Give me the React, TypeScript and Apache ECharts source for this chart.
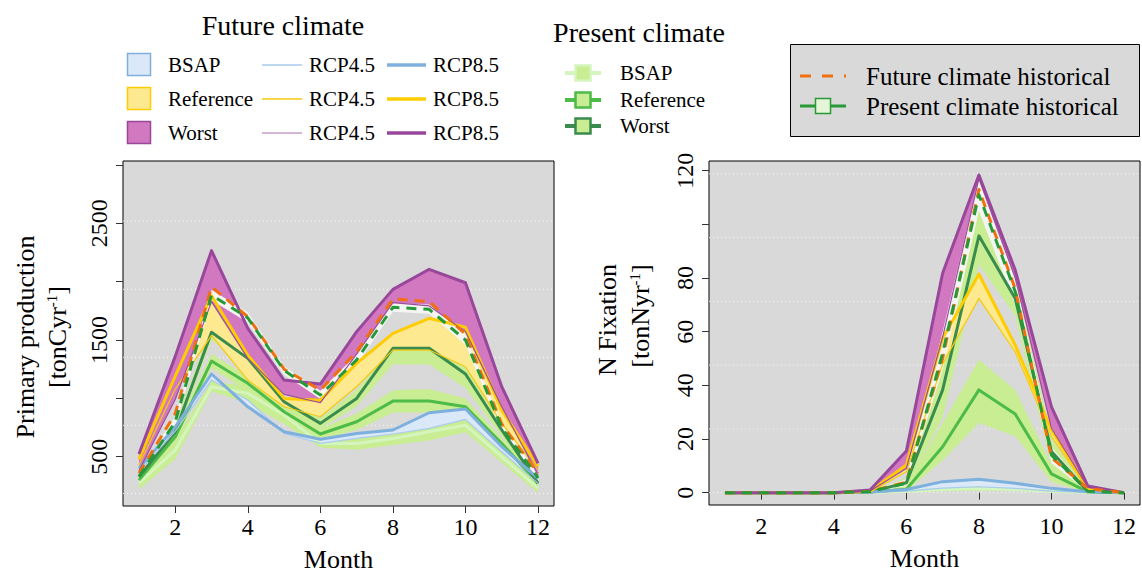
import React, { useEffect, useRef } from 'react';
import * as echarts from 'echarts';

const FONT = '"Liberation Serif", "DejaVu Serif", serif';

const months = [1, 2, 3, 4, 5, 6, 7, 8, 9, 10, 11, 12];
const xTicks = [2, 4, 6, 8, 10, 12];

// ---------- Primary production (left) ----------
const ppYTicks = [500, 1000, 1500, 2000, 2500, 3000];
const ppYLabels = [500, 1500, 2500];
const ppGrid = [186, 769, 1352, 1935, 2520];

const ppFutBsap45 = [370, 720, 1157, 986, 700, 614, 657, 695, 743, 820, 543, 272];
const ppFutBsap85 = [400, 757, 1209, 928, 714, 650, 700, 729, 877, 909, 586, 315];
const ppFutRef45 = [430, 1080, 1540, 1157, 928, 843, 1100, 1414, 1414, 1271, 786, 386];
const ppFutRef85 = [480, 1190, 1880, 1370, 1000, 985, 1300, 1557, 1686, 1609, 900, 420];
const ppFutWorst45 = [380, 990, 1829, 1343, 1035, 963, 1380, 1820, 1792, 1572, 928, 343];
const ppFutWorst85 = [523, 1360, 2266, 1600, 1157, 1123, 1572, 1934, 2106, 1991, 1100, 444];

const ppPresBsap = [275, 557, 1100, 1043, 857, 614, 614, 657, 714, 771, 500, 229];
const ppPresBsapLow = [220, 480, 1060, 960, 780, 580, 560, 600, 640, 710, 450, 190];
const ppPresBsapHigh = [330, 640, 1150, 1100, 920, 660, 680, 720, 790, 830, 560, 270];
const ppPresRef = [300, 671, 1320, 1129, 886, 695, 800, 977, 977, 928, 614, 272];
const ppPresRefLow = [260, 610, 1260, 1060, 830, 650, 730, 880, 880, 860, 570, 240];
const ppPresRefHigh = [340, 730, 1380, 1190, 940, 740, 870, 1070, 1080, 1000, 660, 310];
const ppPresWorst = [329, 714, 1566, 1343, 971, 786, 1000, 1429, 1429, 1209, 729, 272];
const ppPresWorstLow = [290, 650, 1500, 1270, 920, 740, 930, 1290, 1290, 1090, 680, 240];
const ppPresWorstHigh = [360, 780, 1620, 1400, 1020, 830, 1070, 1440, 1440, 1280, 780, 310];

const ppFutHist = [358, 870, 1955, 1700, 1250, 1070, 1400, 1852, 1829, 1550, 780, 358];
const ppPresHist = [330, 800, 1886, 1690, 1240, 1029, 1330, 1780, 1763, 1500, 750, 320];
const ppPresHistLow = [300, 760, 1840, 1650, 1205, 995, 1290, 1743, 1725, 1460, 715, 290];
const ppPresHistHigh = [365, 845, 1930, 1735, 1275, 1065, 1375, 1815, 1805, 1545, 790, 355];

// ---------- N fixation (right) ----------
const nfYTicks = [0, 20, 40, 60, 80, 100, 120];
const nfYLabels = [0, 20, 40, 60, 80, 120];
const nfGrid = [0, 23.76, 47.52, 71.28, 95.04, 118.8];

const nfFutBsap45 = [0, 0, 0, 0, 0.1, 0.6, 1.7, 2.2, 1.6, 0.6, 0.1, 0];
const nfFutBsap85 = [0, 0, 0, 0, 0.2, 1.2, 4.1, 5.0, 3.5, 1.6, 0.3, 0];
const nfFutRef45 = [0, 0, 0, 0, 0.3, 7.8, 48, 72.4, 52.5, 20.9, 1.2, 0];
const nfFutRef85 = [0, 0, 0, 0, 0.5, 10.3, 57.5, 81.5, 55, 23.4, 1.6, 0];
const nfFutWorst45 = [0, 0, 0, 0, 0.6, 9.0, 58, 117, 80, 24, 2.0, 0];
const nfFutWorst85 = [0, 0, 0, 0, 1.0, 15.5, 81.8, 118.4, 83, 32, 2.5, 0];

const nfPresBsap = [0, 0, 0, 0, 0.1, 0.5, 1.2, 1.5, 1.2, 0.5, 0.1, 0];
const nfPresBsapLow = [0, 0, 0, 0, 0, 0.2, 0.5, 0.8, 0.6, 0.2, 0, 0];
const nfPresBsapHigh = [0, 0, 0, 0, 0.2, 1.0, 2.2, 2.6, 2.2, 1.0, 0.2, 0];
const nfPresRef = [0, 0, 0, 0, 0.2, 1.3, 17.1, 38.3, 29.3, 7, 0.3, 0];
const nfPresRefLow = [0, 0, 0, 0, 0.1, 0.5, 12, 26, 21, 4, 0.1, 0];
const nfPresRefHigh = [0, 0, 0, 0, 0.3, 3, 26, 49.5, 38.3, 10.3, 0.6, 0];
const nfPresWorst = [0, 0, 0, 0, 0.3, 3.7, 38.3, 95.7, 72.4, 15.3, 0.4, 0];
const nfPresWorstLow = [0, 0, 0, 0, 0.1, 2, 28, 85, 66, 10, 0.2, 0];
const nfPresWorstHigh = [0, 0, 0, 0, 0.5, 5.5, 48, 108, 80.5, 20, 0.8, 0];

const nfFutHist = [0, 0, 0, 0, 0.5, 4, 50, 113, 76, 13, 1.5, 0];
const nfPresHist = [0, 0, 0, 0, 0.4, 3.5, 52, 111, 75, 14, 0.5, 0];
const nfPresHistLow = [0, 0, 0, 0, 0.2, 2.5, 46, 105, 70, 11, 0.3, 0];
const nfPresHistHigh = [0, 0, 0, 0, 0.6, 5, 60, 117, 80, 17, 0.8, 0];

// ---------- colours ----------
const C = {
  bg: '#d9d9d9',
  presBand: '#c9ed92',
  presBsapLine: '#d4f5bd',
  presRefLine: '#4cbb47',
  presWorstLine: '#3a8b4e',
  bsapFill: '#dbe8f7',
  bsapThin: '#a9cbee',
  bsapThick: '#7eb0de',
  refFill: '#fde98f',
  refThin: '#f6c90e',
  refThick: '#ffcc00',
  worstFill: '#d178c0',
  worstThin: '#9b4f9b',
  worstThick: '#98479a',
  histOrange: '#f07010',
  histGreen: '#259a36',
  histBand: '#f4f5f3',
};

const X_MIN = 0.56;
const X_MAX = 12.44;

function bandSeries(axis: number, lo: number[], hi: number[], color: string) {
  return {
    type: 'custom',
    xAxisIndex: axis,
    yAxisIndex: axis,
    silent: true,
    z: 2,
    data: months.map((m, i) => [m, lo[i], hi[i]]),
    encode: { x: 0, y: [1, 2] },
    renderItem: (params: any, api: any) => {
      if (params.dataIndex !== 0) return null;
      const pts: number[][] = [];
      for (let i = 0; i < months.length; i++) pts.push(api.coord([months[i], hi[i]]));
      for (let i = months.length - 1; i >= 0; i--) pts.push(api.coord([months[i], lo[i]]));
      return { type: 'polygon', shape: { points: pts }, style: { fill: color, stroke: null } };
    },
  };
}

function lineSeries(axis: number, vals: number[], color: string, width: number, dashed = false) {
  return {
    type: 'line',
    xAxisIndex: axis,
    yAxisIndex: axis,
    silent: true,
    z: 3,
    showSymbol: false,
    symbol: 'none',
    data: months.map((m, i) => [m, vals[i]]),
    lineStyle: { color, width, type: dashed ? [10, 7] : 'solid', cap: 'butt', join: 'round' },
  };
}

function gridLine(axis: number, v: number) {
  return {
    type: 'line',
    xAxisIndex: axis,
    yAxisIndex: axis,
    silent: true,
    z: 1,
    showSymbol: false,
    symbol: 'none',
    data: [[X_MIN, v], [X_MAX, v]],
    lineStyle: { color: 'rgba(255,255,255,0.85)', width: 1, type: [1, 3] },
  };
}

function panelSeries(axis: number, d: any) {
  return [
    ...d.grid.map((v: number) => gridLine(axis, v)),
    bandSeries(axis, d.presBsapLow, d.presBsapHigh, C.presBand),
    bandSeries(axis, d.presRefLow, d.presRefHigh, C.presBand),
    bandSeries(axis, d.presWorstLow, d.presWorstHigh, C.presBand),
    bandSeries(axis, d.futBsap45, d.futBsap85, C.bsapFill),
    bandSeries(axis, d.futRef45, d.futRef85, C.refFill),
    bandSeries(axis, d.futWorst45, d.futWorst85, C.worstFill),
    bandSeries(axis, d.presHistLow, d.presHistHigh, C.histBand),
    lineSeries(axis, d.presBsap, C.presBsapLine, 3),
    lineSeries(axis, d.presRef, C.presRefLine, 3),
    lineSeries(axis, d.presWorst, C.presWorstLine, 3),
    lineSeries(axis, d.futBsap45, C.bsapThin, 1.2),
    lineSeries(axis, d.futBsap85, C.bsapThick, 3),
    lineSeries(axis, d.futRef45, C.refThin, 1.2),
    lineSeries(axis, d.futRef85, C.refThick, 3),
    lineSeries(axis, d.futWorst45, C.worstThin, 1.2),
    lineSeries(axis, d.futWorst85, C.worstThick, 3),
    lineSeries(axis, d.futHist, C.histOrange, 3, true),
    lineSeries(axis, d.presHist, C.histGreen, 3, true),
  ];
}

const txt = (text: string, x: number, y: number, size: number, align = 'left') => ({
  type: 'text',
  x,
  y,
  silent: true,
  style: {
    text,
    fill: '#000',
    fontFamily: 'Liberation Serif',
    fontSize: size,
    fontWeight: 'normal',
    align,
    verticalAlign: 'middle',
  },
});

const hline = (x1: number, x2: number, y: number, color: string, width: number, dash: any = null) => ({
  type: 'line',
  silent: true,
  shape: { x1, y1: y, x2, y2: y },
  style: { stroke: color, lineWidth: width, lineDash: dash },
});

const rotTitle = (text: string, x: number, y: number, size: number) => ({
  type: 'text',
  x,
  y,
  rotation: Math.PI / 2,
  silent: true,
  style: {
    text,
    fill: '#000',
    fontFamily: 'Liberation Serif',
    fontSize: size,
    align: 'center',
    verticalAlign: 'middle',
    rich: {
      a: { fontSize: size, fontFamily: 'Liberation Serif', fill: '#000' },
      s: { fontSize: 15, fontFamily: 'Liberation Serif', fill: '#000', verticalAlign: 'top', padding: [0, 0, 8, 0] },
    },
  },
});

function legendGraphics() {
  const g: any[] = [];
  g.push(txt('Future climate', 283, 25, 28, 'center'));
  const rows = [
    { y: 65, label: 'BSAP', fill: C.bsapFill, stroke: C.bsapThick, thin: C.bsapThin, thick: C.bsapThick },
    { y: 99, label: 'Reference', fill: C.refFill, stroke: C.refThick, thin: C.refThin, thick: C.refThick },
    { y: 133, label: 'Worst', fill: C.worstFill, stroke: C.worstThick, thin: '#c79ccb', thick: C.worstThick },
  ];
  rows.forEach((r) => {
    g.push({ type: 'rect', silent: true, shape: { x: 127.5, y: r.y - 11.5, width: 23, height: 22 }, style: { fill: r.fill, stroke: r.stroke, lineWidth: 1.5 } });
    g.push(txt(r.label, 168, r.y, 21));
    g.push(hline(262, 302, r.y, r.thin, 1.5));
    g.push(txt('RCP4.5', 309, r.y, 21));
    g.push(hline(387, 426, r.y, r.thick, 3.5));
    g.push(txt('RCP8.5', 433, r.y, 21));
  });

  g.push(txt('Present climate', 639, 32, 28, 'center'));
  const prow = [
    { y: 73, label: 'BSAP', line: C.presBsapLine },
    { y: 100, label: 'Reference', line: C.presRefLine },
    { y: 126, label: 'Worst', line: C.presWorstLine },
  ];
  prow.forEach((r) => {
    g.push(hline(565, 601, r.y, r.line, 4));
    g.push({ type: 'rect', silent: true, shape: { x: 575.5, y: r.y - 7.5, width: 15, height: 15 }, style: { fill: C.presBand, stroke: r.line, lineWidth: 2.5 } });
    g.push(txt(r.label, 620, r.y, 21));
  });

  g.push({ type: 'rect', silent: true, shape: { x: 790.5, y: 44.5, width: 349, height: 92 }, style: { fill: C.bg, stroke: '#000', lineWidth: 1 } });
  g.push(hline(800, 846, 76, C.histOrange, 3, [11, 11]));
  g.push(txt('Future climate historical', 866, 76, 25));
  g.push(hline(800, 846, 106, C.histGreen, 3));
  g.push({ type: 'rect', silent: true, shape: { x: 815.5, y: 98.5, width: 15, height: 15 }, style: { fill: '#e4f5d8', stroke: C.histGreen, lineWidth: 1.5 } });
  g.push(txt('Present climate historical', 866, 106, 25));

  g.push(rotTitle('{a|Primary production}', 25, 337, 26));
  g.push(rotTitle('{a|[tonCyr}{s|-1}{a|]}', 57, 337, 26));
  g.push(rotTitle('{a|N Fixation}', 607, 320, 26));
  g.push(rotTitle('{a|[tonNyr}{s|-1}{a|]}', 640, 316, 26));
  return g;
}

function xAxisCfg(gridIndex: number) {
  return {
    gridIndex,
    type: 'value',
    min: X_MIN,
    max: X_MAX,
    axisLine: { show: false },
    splitLine: { show: false },
    axisTick: { show: true, length: 7, customValues: xTicks, lineStyle: { color: '#333', width: 1 } },
    axisLabel: { customValues: xTicks, fontSize: 24, fontFamily: FONT, color: '#000', margin: 9, formatter: (v: number) => String(v) },
    name: 'Month',
    nameLocation: 'middle',
    nameGap: 40,
    nameTextStyle: { fontSize: 26, lineHeight: 26, fontFamily: FONT, color: '#000' },
  };
}

function yAxisCfg(gridIndex: number, min: number, max: number, ticks: number[], labels: number[], margin: number) {
  return {
    gridIndex,
    type: 'value',
    min,
    max,
    axisLine: { show: false },
    splitLine: { show: false },
    axisTick: { show: true, length: 7, customValues: ticks, lineStyle: { color: '#333', width: 1 } },
    axisLabel: {
      customValues: labels,
      rotate: 90,
      fontSize: 24,
      fontFamily: FONT,
      color: '#000',
      margin,
      formatter: (v: number) => String(v),
    },
  };
}

export default function App() {
  const ref = useRef<HTMLDivElement>(null);
  useEffect(() => {
    document.body.style.margin = '0';
    if (!ref.current) return;
    const chart = echarts.init(ref.current, undefined, { renderer: 'svg' });
    const pp = {
      grid: ppGrid,
      futBsap45: ppFutBsap45, futBsap85: ppFutBsap85,
      futRef45: ppFutRef45, futRef85: ppFutRef85,
      futWorst45: ppFutWorst45, futWorst85: ppFutWorst85,
      presBsap: ppPresBsap, presBsapLow: ppPresBsapLow, presBsapHigh: ppPresBsapHigh,
      presRef: ppPresRef, presRefLow: ppPresRefLow, presRefHigh: ppPresRefHigh,
      presWorst: ppPresWorst, presWorstLow: ppPresWorstLow, presWorstHigh: ppPresWorstHigh,
      futHist: ppFutHist, presHist: ppPresHist, presHistLow: ppPresHistLow, presHistHigh: ppPresHistHigh,
    };
    const nf = {
      grid: nfGrid,
      futBsap45: nfFutBsap45, futBsap85: nfFutBsap85,
      futRef45: nfFutRef45, futRef85: nfFutRef85,
      futWorst45: nfFutWorst45, futWorst85: nfFutWorst85,
      presBsap: nfPresBsap, presBsapLow: nfPresBsapLow, presBsapHigh: nfPresBsapHigh,
      presRef: nfPresRef, presRefLow: nfPresRefLow, presRefHigh: nfPresRefHigh,
      presWorst: nfPresWorst, presWorstLow: nfPresWorstLow, presWorstHigh: nfPresWorstHigh,
      futHist: nfFutHist, presHist: nfPresHist, presHistLow: nfPresHistLow, presHistHigh: nfPresHistHigh,
    };
    chart.setOption({
      animation: false,
      textStyle: { fontFamily: FONT },
      grid: [
        { left: 123, top: 161, width: 431, height: 345, show: true, backgroundColor: C.bg, borderColor: '#000', borderWidth: 1, outerBoundsMode: 'none', containLabel: false },
        { left: 709, top: 161, width: 431, height: 344, show: true, backgroundColor: C.bg, borderColor: '#000', borderWidth: 1, outerBoundsMode: 'none', containLabel: false },
      ],
      xAxis: [xAxisCfg(0), xAxisCfg(1)],
      yAxis: [
        yAxisCfg(0, 78, 3034, ppYTicks, ppYLabels, 12),
        yAxisCfg(1, -4.6, 123.6, nfYTicks, nfYLabels, 12),
      ],
      series: [...panelSeries(0, pp), ...panelSeries(1, nf)],
      graphic: legendGraphics(),
    });
    return () => chart.dispose();
  }, []);
  return <div ref={ref} style={{ width: 1142, height: 574, position: 'absolute', left: 0, top: 0 }} />;
}
